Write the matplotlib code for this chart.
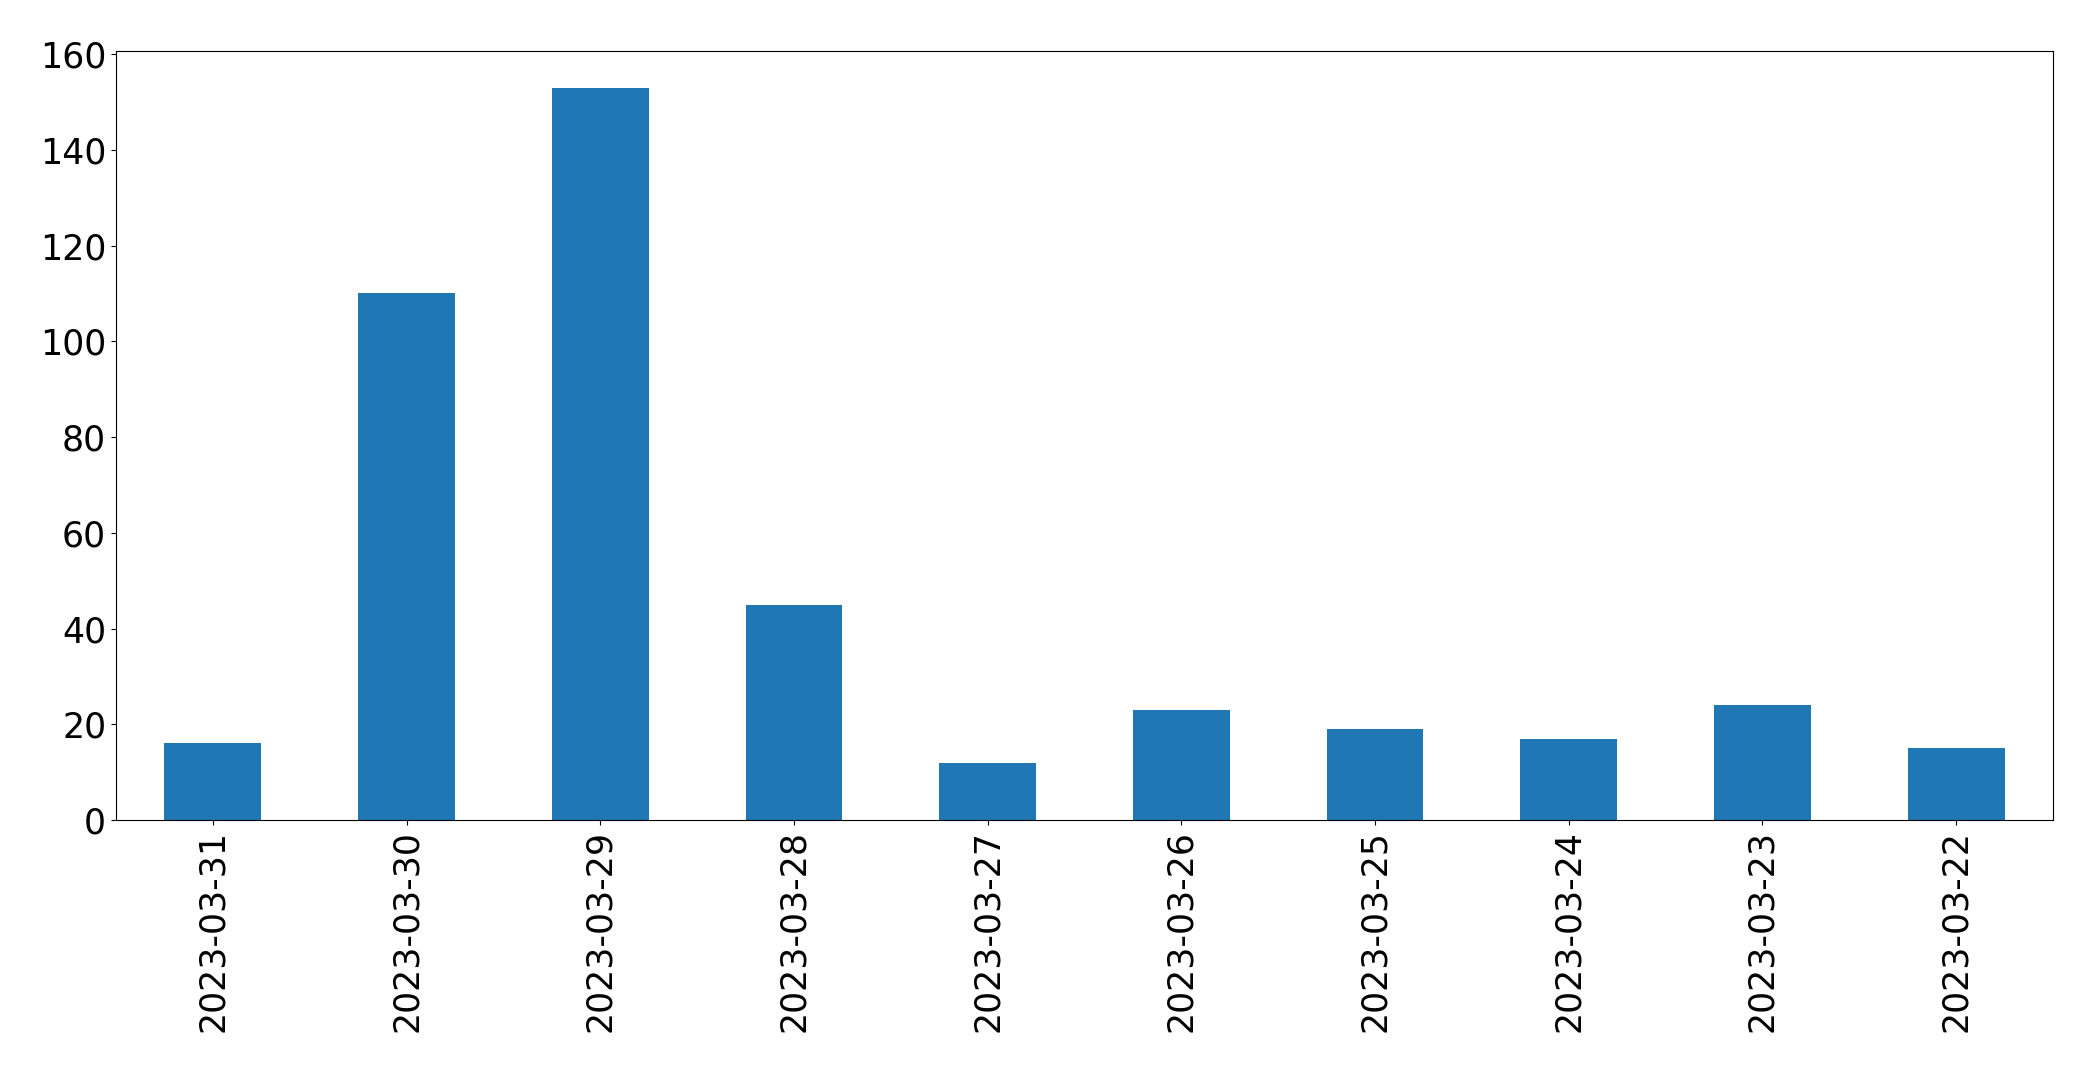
import matplotlib
matplotlib.use('Agg')
import matplotlib.pyplot as plt
import pandas as pd

dates = ['2023-03-31', '2023-03-30', '2023-03-29', '2023-03-28', '2023-03-27',
         '2023-03-26', '2023-03-25', '2023-03-24', '2023-03-23', '2023-03-22']
counts = [16, 110, 153, 45, 12, 23, 19, 17, 24, 15]

plt.rcParams['font.size'] = 25

s = pd.Series(counts, index=dates)

fig, ax = plt.subplots(figsize=(20.93, 10.72), dpi=100)
s.plot(kind='bar', ax=ax)
fig.subplots_adjust(left=0.0554, right=0.9809, top=0.9524, bottom=0.2351)

fig.savefig('out.png', dpi=100)
